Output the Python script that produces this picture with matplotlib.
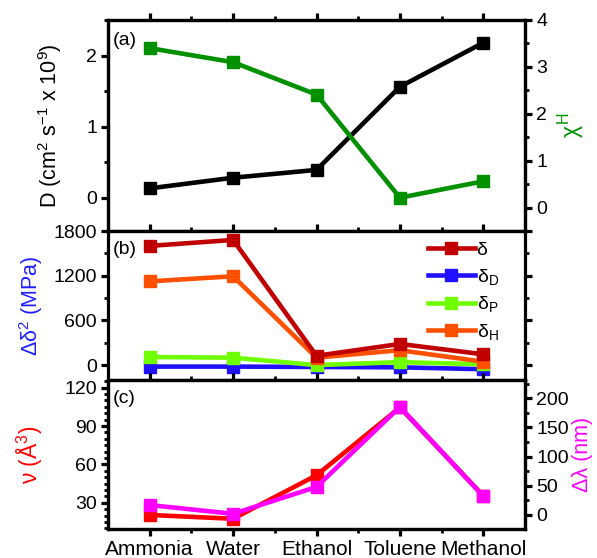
import matplotlib
matplotlib.use("Agg")
import matplotlib.pyplot as plt
from matplotlib.ticker import MultipleLocator, FixedLocator

plt.rcParams['font.family'] = ['Liberation Sans', 'DejaVu Sans']
plt.rcParams['mathtext.fontset'] = 'custom'
plt.rcParams['mathtext.rm'] = 'Liberation Sans'
plt.rcParams['mathtext.it'] = 'Liberation Sans'

solvents = ["Ammonia", "Water", "Ethanol", "Toluene", "Methanol"]
D_vals = [0.13, 0.28, 0.39, 1.56, 2.18]
chiH_vals = [3.40, 3.10, 2.41, 0.21, 0.56]

delta_vals = [1600, 1680, 125, 284, 145]
deltaD_vals = [-20, -20, -25, -30, -55]
deltaP_vals = [108, 100, 0, 40, 10]
deltaH_vals = [1124, 1192, 100, 200, 45]

nu_vals = [20.5, 17.5, 51.5, 104.5, 35.5]
dlambda_vals = [17, 2, 48, 185, 32]

x = list(range(len(solvents)))

fig = plt.figure(figsize=(5.97, 5.58), dpi=100)
L, R = 108/597, 525/597
def yb(p):
    return 1 - p/558
ax_a = fig.add_axes([L, yb(231), R-L, yb(20)-yb(231)])
ax_b = fig.add_axes([L, yb(380), R-L, yb(231)-yb(380)])
ax_c = fig.add_axes([L, yb(529), R-L, yb(380)-yb(529)])

lw = 3.3
ms = 9
fs = 14
lfs = 15.5

def style(ax):
    ax.set_xlim(-0.5, 4.5)
    ax.xaxis.set_major_locator(FixedLocator(x))
    ax.xaxis.set_minor_locator(FixedLocator([0.5, 1.5, 2.5, 3.5]))
    for s in ax.spines.values():
        s.set_linewidth(2.3)
    ax.tick_params(which='major', direction='out', length=5, width=2.3, labelsize=fs,
                   top=True, bottom=True, pad=3)
    ax.tick_params(which='minor', direction='out', length=3, width=2.0, top=True, bottom=True)

def style_twin(ax):
    ax.tick_params(which='major', direction='out', length=5, width=2.3, labelsize=fs, pad=3)
    ax.tick_params(which='minor', direction='out', length=3, width=2.0)
    for s in ax.spines.values():
        s.set_linewidth(2.3)

# Panel a
style(ax_a)
ax_a.plot(x, D_vals, color='black', lw=lw, marker='s', ms=ms, zorder=3)
ax_a.set_ylim(-0.47, 2.5)
ax_a.yaxis.set_major_locator(MultipleLocator(1))
ax_a.yaxis.set_minor_locator(MultipleLocator(0.5))
ax_a.set_ylabel("D (cm$^2$ s$^{-1}$ x 10$^9$)", fontsize=lfs, color='black', labelpad=16)
ax_a.tick_params(axis='x', labelbottom=False)
ax_a2 = ax_a.twinx()
ax_a2.plot(x, chiH_vals, color='#009000', lw=lw, marker='s', ms=ms, zorder=3)
ax_a2.set_ylim(-0.5, 4)
ax_a2.yaxis.set_major_locator(MultipleLocator(1))
ax_a2.yaxis.set_minor_locator(MultipleLocator(0.5))
style_twin(ax_a2)
ax_a2.set_ylabel("$\\chi^{\\mathrm{H}}$", fontsize=lfs+1, color='#009000', labelpad=6)
ax_a.text(0.012, 0.945, "(a)", transform=ax_a.transAxes, fontsize=fs, va='top', ha='left')

# Panel b
style(ax_b)
ax_b.plot(x, delta_vals, color='#C00000', lw=lw, marker='s', ms=ms, label='δ', zorder=3)
ax_b.plot(x, deltaD_vals, color='#2010FF', lw=lw, marker='s', ms=ms, label='δ$_\\mathrm{D}$', zorder=2)
ax_b.plot(x, deltaP_vals, color='#70FF00', lw=lw, marker='s', ms=ms, label='δ$_\\mathrm{P}$', zorder=2)
ax_b.plot(x, deltaH_vals, color='#FF5000', lw=lw, marker='s', ms=ms, label='δ$_\\mathrm{H}$', zorder=2)
ax_b.set_ylim(-200, 1800)
ax_b.yaxis.set_major_locator(MultipleLocator(600))
ax_b.yaxis.set_minor_locator(MultipleLocator(300))
ax_b.tick_params(axis='y', which='both', right=True)
ax_b.tick_params(axis='x', labelbottom=False)
ax_b.set_ylabel("Δδ$^2$ (MPa)", fontsize=lfs, color='#2020FF', labelpad=6)
ax_b.text(0.012, 0.93, "(b)", transform=ax_b.transAxes, fontsize=fs, va='top', ha='left')
leg = ax_b.legend(loc='upper right', bbox_to_anchor=(0.965, 1.01), frameon=False,
                  fontsize=fs, handlelength=2.4, handletextpad=0.1, labelspacing=0.4,
                  borderaxespad=0.2)

# Panel c
style(ax_c)
ax_c.plot(x, nu_vals, color='#FF0000', lw=lw, marker='s', ms=ms, zorder=3)
ax_c.set_ylim(9.5, 126)
ax_c.yaxis.set_major_locator(FixedLocator([30, 60, 90, 120]))
ax_c.yaxis.set_minor_locator(MultipleLocator(5))
ax_c.set_xticks(x)
ax_c.set_xticklabels(solvents, fontsize=fs+1)
ax_c.set_ylabel("ν (Å$^3$)", fontsize=lfs+1, color='#FF0000', labelpad=14)
ax_c2 = ax_c.twinx()
ax_c2.plot(x, dlambda_vals, color='#FF00FF', lw=lw, marker='s', ms=ms, zorder=3)
ax_c2.set_ylim(-24, 231)
ax_c2.yaxis.set_major_locator(MultipleLocator(50))
ax_c2.yaxis.set_minor_locator(MultipleLocator(25))
style_twin(ax_c2)
ax_c2.set_ylabel("Δλ (nm)", fontsize=lfs, color='#FF00FF', labelpad=2)
ax_c.text(0.012, 0.93, "(c)", transform=ax_c.transAxes, fontsize=fs, va='top', ha='left')

fig.savefig("out.png", dpi=100)
